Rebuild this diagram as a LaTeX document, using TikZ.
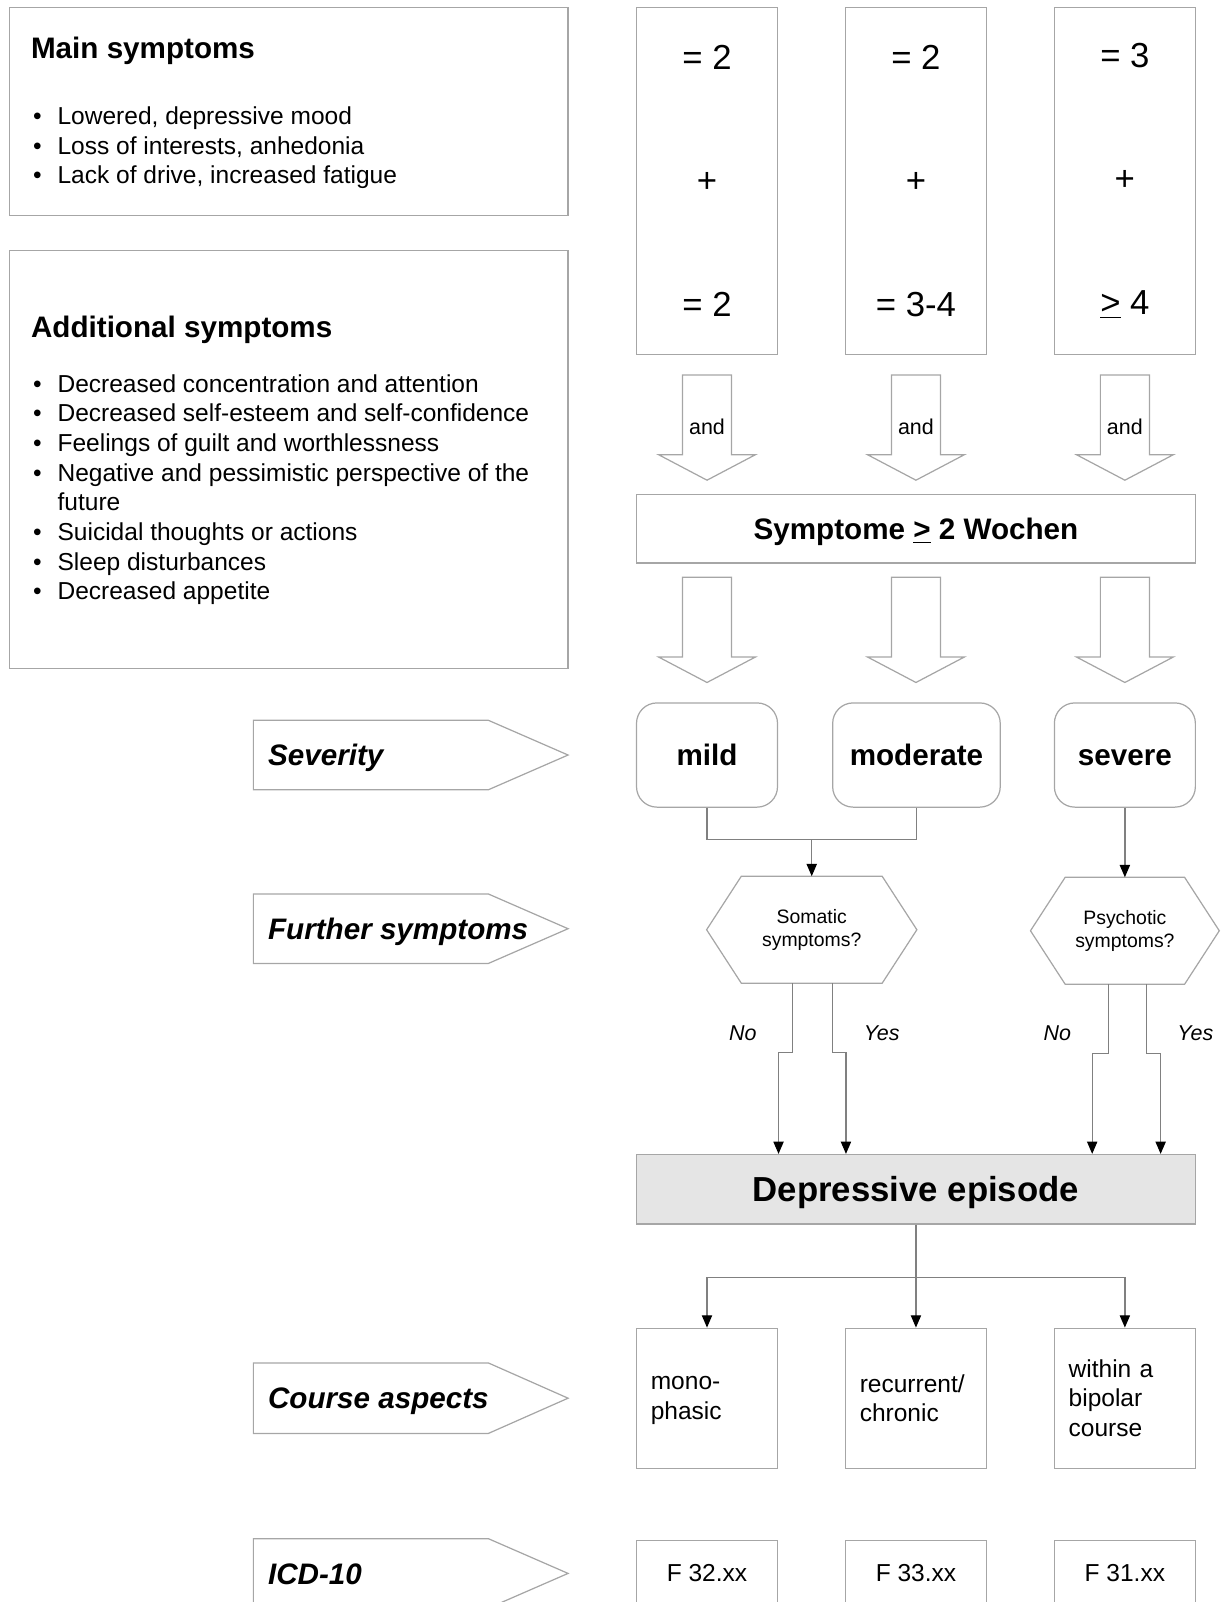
\documentclass[tikz,border=0pt]{standalone}
\usepackage{fontspec}
\setmainfont{Liberation Sans}
\usetikzlibrary{positioning, arrows.meta}
\definecolor{bordergray}{HTML}{A6A6A6}
\definecolor{wiregray}{HTML}{808080}
\tikzset{
    >={Stealth[inset=0pt, length=6pt, width=5pt, color=black]},
    box/.style={draw=bordergray, line width=0.6pt, inner sep=0pt},
    colbox/.style={box, minimum width=69pt, minimum height=170pt, align=center, font=\fontsize{17pt}{60.5pt}\selectfont},
    sevbox/.style={box, rounded corners=10pt, minimum height=51pt, text height=10.4pt, text depth=0pt, font=\fontsize{14.5pt}{17pt}\selectfont\bfseries},
    coursebox/.style={box, minimum height=68.5pt, text width=55pt, inner xsep=7pt, align=left, font=\fontsize{12pt}{14.5pt}\selectfont},
    icdbox/.style={box, minimum width=69pt, minimum height=32pt, font=\fontsize{12pt}{14.5pt}\selectfont},
    hexnode/.style={minimum height=52pt, inner sep=0pt, align=center, font=\fontsize{9.5pt}{11.5pt}\selectfont},
    heading/.style={inner sep=0pt, anchor=base west, font=\fontsize{14.5pt}{17pt}\selectfont\bfseries},
    symlist/.style={inner sep=0pt, anchor=base west, font=\fontsize{12pt}{14.5pt}\selectfont},
    tagtext/.style={inner sep=0pt, anchor=west, text height=10.4pt, text depth=0pt, font=\fontsize{14.5pt}{17pt}\selectfont\bfseries\itshape},
    yesno/.style={inner sep=0pt, font=\fontsize{10.5pt}{12pt}\selectfont\itshape},
    wire/.style={draw=wiregray, line width=0.6pt},
    outline/.style={draw=bordergray, line width=0.6pt},
    bigarrow/.pic={\draw[outline] (-24,0) -- (24,0) -- (24,78) -- (47.5,78) -- (0,103) -- (-47.5,78) -- (-24,78) -- cycle;}
}

\begin{document}
\begin{tikzpicture}[x=0.5pt, y=-0.5pt]
    \useasboundingbox (0,0) rectangle (1195,1568);
    \clip (0,0) rectangle (1195,1568);

    % symptom lists on the left
    \node[box, minimum width=273.5pt, minimum height=102pt] (mainbox) at (282.5,109) {};
    \node[heading] (mainhead) at (30,57) {Main symptoms};
    \node[symlist] (mainlist) at (32,122) {\begin{tabular}[t]{@{}p{12pt}@{}l@{}}
        \textbullet & Lowered, depressive mood\\
        \textbullet & Loss of interests, anhedonia\\
        \textbullet & Lack of drive, increased fatigue
    \end{tabular}};
    \node[box, minimum width=273.5pt, minimum height=204.5pt] (addbox) at (282.5,449.5) {};
    \node[heading] (addhead) at (30,330) {Additional symptoms};
    \node[symlist] (addlist) at (32,384) {\begin{tabular}[t]{@{}p{12pt}@{}l@{}}
        \textbullet & Decreased concentration and attention\\
        \textbullet & Decreased self-esteem and self-confidence\\
        \textbullet & Feelings of guilt and worthlessness\\
        \textbullet & Negative and pessimistic perspective of the\\
                    & future\\
        \textbullet & Suicidal thoughts or actions\\
        \textbullet & Sleep disturbances\\
        \textbullet & Decreased appetite
    \end{tabular}};

    % symptom counts
    \node[colbox] (cnt1) at (692,177) {= 2\\+\\= 2};
    \node[colbox, right=32.65pt of cnt1] (cnt2) {= 2\\+\\= 3-4};
    \node[colbox, right=32.65pt of cnt2] (cnt3) {= 3\\+\\\underline{>} 4};

    \pic at (692,367) {bigarrow};
    \pic at (896.5,367) {bigarrow};
    \pic at (1101,367) {bigarrow};
    \node[font=\fontsize{10.5pt}{12pt}\selectfont] (and1) at (692,418) {and};
    \node[font=\fontsize{10.5pt}{12pt}\selectfont] (and2) at (896.5,418) {and};
    \node[font=\fontsize{10.5pt}{12pt}\selectfont] (and3) at (1101,418) {and};

    \node[box, minimum width=273.5pt, minimum height=33.5pt, text height=10.4pt, text depth=0pt, font=\fontsize{14.5pt}{17pt}\selectfont\bfseries] (weeks) at (896.5,517.5) {Symptome \underline{>} 2 Wochen};

    \pic at (692,565) {bigarrow};
    \pic at (896.5,565) {bigarrow};
    \pic at (1101,565) {bigarrow};

    % severity
    \node[sevbox, minimum width=69pt] (mild) at (692,739) {mild};
    \node[sevbox, minimum width=82pt] (moderate) at (897,739) {moderate};
    \node[sevbox, minimum width=69pt] (severe) at (1101,739) {severe};

    \node[hexnode, minimum width=102.5pt] (somatic) at (794.5,910) {Somatic\\symptoms?};
    \node[hexnode, minimum width=92pt, below=34pt of severe] (psychotic) {Psychotic\\symptoms?};
    \draw[outline] ([xshift=17pt]somatic.north west) -- ([xshift=-17pt]somatic.north east) -- (somatic.east)
        -- ([xshift=-17pt]somatic.south east) -- ([xshift=17pt]somatic.south west) -- (somatic.west) -- cycle;
    \draw[outline] ([xshift=17pt]psychotic.north west) -- ([xshift=-17pt]psychotic.north east) -- (psychotic.east)
        -- ([xshift=-17pt]psychotic.south east) -- ([xshift=17pt]psychotic.south west) -- (psychotic.west) -- cycle;

    \coordinate (join) at (794.5,822);
    \draw[wire] (mild.south) |- (join) -| (moderate.south);
    \draw[wire, ->] (join) -- (somatic.north);
    \draw[wire, ->] (severe.south) -- (psychotic.north);

    \node[box, fill=gray!20, minimum width=273.5pt, minimum height=34pt, text height=12.2pt, text depth=0pt, font=\fontsize{17pt}{20pt}\selectfont\bfseries] (episode) at (896.5,1164) {Depressive episode};

    \draw[wire, ->] ([xshift=-9.25pt]somatic.south) -- ++(0,68) -| ([xshift=-67.25pt]episode.north);
    \draw[wire, ->] ([xshift=10.25pt]somatic.south) -- ++(0,68) -| ([xshift=-34.25pt]episode.north);
    \draw[wire, ->] ([xshift=-8pt]psychotic.south) -- ++(0,68) -| ([xshift=86.25pt]episode.north);
    \draw[wire, ->] ([xshift=10.5pt]psychotic.south) -- ++(0,68) -| ([xshift=119.75pt]episode.north);
    \node[yesno] (no1) at (727,1011) {No};
    \node[yesno] (yes1) at (863,1011) {Yes};
    \node[yesno] (no2) at (1035,1011) {No};
    \node[yesno] (yes2) at (1170,1011) {Yes};

    % course and codes
    \node[coursebox] (course1) at (692,1368.5) {\vphantom{l}mono-\\phasic};
    \node[coursebox, right=32.65pt of course1] (course2) {recurrent/\\chronic};
    \node[coursebox, right=32.65pt of course2] (course3) {within a\\bipolar\\course};

    \coordinate (split) at (896.5,1250);
    \draw[wire, ->] (episode.south) -- (course2.north);
    \draw[wire, ->] (split) -| (course1.north);
    \draw[wire, ->] (split) -| (course3.north);

    \node[icdbox] (icd1) at (692,1540) {F 32.xx};
    \node[icdbox, right=32.65pt of icd1] (icd2) {F 33.xx};
    \node[icdbox, right=32.65pt of icd2] (icd3) {F 31.xx};

    % row labels
    \draw[outline] (248,705) -- (478,705) -- (556,739) -- (478,773) -- (248,773) -- cycle;
    \node[tagtext] (sevtag) at (262,739) {Severity};
    \draw[outline] (248,875) -- (478,875) -- (556,909) -- (478,943) -- (248,943) -- cycle;
    \node[tagtext] (furthertag) at (262,909) {Further symptoms};
    \draw[outline] (248,1334) -- (478,1334) -- (556,1368.5) -- (478,1403) -- (248,1403) -- cycle;
    \node[tagtext] (coursetag) at (262,1368.5) {Course aspects};
    \draw[outline] (248,1506) -- (478,1506) -- (556,1540) -- (478,1574) -- (248,1574) -- cycle;
    \node[tagtext] (icdtag) at (262,1540) {ICD-10};
\end{tikzpicture}
\end{document}
